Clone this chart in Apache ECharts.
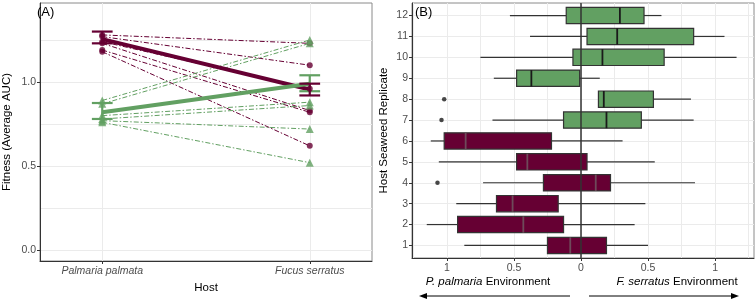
<!DOCTYPE html>
<html><head><meta charset="utf-8">
<script src="https://cdn.jsdelivr.net/npm/echarts@6/dist/echarts.min.js"></script>
<style>html,body{margin:0;padding:0;background:#fff}#c{width:755px;height:300px}</style>
</head><body><div id="c"></div>
<script>
// ---------- Panel A data ----------
const hosts = ['Palmaria palmata', 'Fucus serratus'];
const hostPos = [1, 2];
const ppAtPalmaria = [1.28, 1.27, 1.24, 1.23, 1.19, 1.18];
const ppAtFucus    = [1.23, 1.10, 0.96, 0.83, 0.82, 0.62];
const fsAtPalmaria = [0.89, 0.87, 0.80, 0.78, 0.77, 0.76];
const fsAtFucus    = [1.25, 1.23, 0.88, 0.86, 0.72, 0.52];
const ppMean = [1.255, 0.955];
const ppLow  = [1.23, 0.92];
const ppHigh = [1.30, 0.99];
const fsMean = [0.82, 0.99];
const fsLow  = [0.78, 0.945];
const fsHigh = [0.875, 1.04];
const yTicksA = [0, 0.5, 1.0];
const yGridA = [0, 0.25, 0.5, 0.75, 1.0, 1.25];

// ---------- Panel B data ----------
const replicates = [1,2,3,4,5,6,7,8,9,10,11,12];
const whiskerLow  = [-0.87,-1.15,-0.93,-0.73,-1.06,-1.12,-0.66, 0.13,-0.65,-0.75,-0.38,-0.53];
const quart1      = [-0.25,-0.92,-0.63,-0.28,-0.48,-1.02,-0.13, 0.13,-0.48,-0.06, 0.045,-0.11];
const medians     = [-0.08,-0.43,-0.51, 0.11,-0.40,-0.86, 0.19, 0.17,-0.37, 0.16, 0.27, 0.29];
const quart3      = [ 0.19,-0.13,-0.17, 0.22, 0.045,-0.22, 0.45, 0.54,-0.01, 0.62, 0.84, 0.47];
const whiskerHigh = [ 0.50, 0.40, 0.48, 0.85, 0.55, 0.31, 0.84, 0.82, 0.14, 1.16, 1.07, 0.60];
const outlierRep  = [4, 7, 8];
const outlierVal  = [-1.07, -1.04, -1.02];
const xTicksB = [-1, -0.5, 0, 0.5, 1];
const xTickLabelsB = ['1', '0.5', '0', '0.5', '1'];
const xGridB = [-1.25,-1,-0.75,-0.5,-0.25,0,0.25,0.5,0.75,1,1.25];

const MAROON = '#660033';
const GREEN = '#62a062';
const FONT = 'Liberation Sans, Arial, sans-serif';

const chart = echarts.init(document.getElementById('c'), null, {renderer: 'canvas'});

function gridLines(axisKey, values, xi, yi) {
  return {
    type: 'line', xAxisIndex: xi, yAxisIndex: yi, data: [], z: 0, silent: true,
    markLine: {
      z: 0, silent: true, symbol: ['none', 'none'], label: {show: false},
      animation: false,
      lineStyle: {color: '#ebebeb', width: 1, type: 'solid'},
      data: values.map(v => ({[axisKey]: v}))
    }
  };
}

function errRender(color) {
  return function (params, api) {
    const x = api.value(0), lo = api.value(1), hi = api.value(2);
    const pLo = api.coord([x, lo]), pHi = api.coord([x, hi]);
    const w = api.size([0.05, 0])[0];
    const st = {stroke: color, lineWidth: 2.2};
    return {type: 'group', children: [
      {type: 'line', shape: {x1: pLo[0], y1: pLo[1], x2: pHi[0], y2: pHi[1]}, style: st},
      {type: 'line', shape: {x1: pLo[0]-w, y1: pLo[1], x2: pLo[0]+w, y2: pLo[1]}, style: st},
      {type: 'line', shape: {x1: pHi[0]-w, y1: pHi[1], x2: pHi[0]+w, y2: pHi[1]}, style: st}
    ]};
  };
}

function boxRender(fill, medColor) {
  return function (params, api) {
    const y = api.value(0);
    const lo = api.coord([api.value(1), y]);
    const q1 = api.coord([api.value(2), y]);
    const md = api.coord([api.value(3), y]);
    const q3 = api.coord([api.value(4), y]);
    const hi = api.coord([api.value(5), y]);
    const h = api.size([0, 0.78])[1];
    const ln = {stroke: '#333', lineWidth: 1.2};
    return {type: 'group', children: [
      {type: 'line', shape: {x1: lo[0], y1: lo[1], x2: q1[0], y2: q1[1]}, style: ln},
      {type: 'line', shape: {x1: q3[0], y1: q3[1], x2: hi[0], y2: hi[1]}, style: ln},
      {type: 'rect', shape: {x: q1[0], y: q1[1]-h/2, width: q3[0]-q1[0], height: h},
        style: {fill: fill, stroke: '#333', lineWidth: 1.2}},
      {type: 'line', shape: {x1: md[0], y1: md[1]-h/2, x2: md[0], y2: md[1]+h/2},
        style: {stroke: medColor, lineWidth: 1.8}}
    ]};
  };
}

const series = [];
// Panel A grid
series.push(gridLines('yAxis', yGridA, 0, 0));
series.push(gridLines('xAxis', hostPos, 0, 0));
// replicate lines
const dashDot = [5, 2, 1.5, 2];
ppAtPalmaria.forEach((v, i) => series.push({
  type: 'line', xAxisIndex: 0, yAxisIndex: 0, symbol: 'none', z: 6, silent: true,
  lineStyle: {color: MAROON, width: 1, type: dashDot},
  data: [[hostPos[0], v], [hostPos[1], ppAtFucus[i]]]
}));
fsAtPalmaria.forEach((v, i) => series.push({
  type: 'line', xAxisIndex: 0, yAxisIndex: 0, symbol: 'none', z: 6, silent: true,
  lineStyle: {color: GREEN, width: 1, type: dashDot},
  data: [[hostPos[0], v], [hostPos[1], fsAtFucus[i]]]
}));
// mean lines
series.push({type: 'line', xAxisIndex: 0, yAxisIndex: 0, symbol: 'none', z: 8,
  lineStyle: {color: MAROON, width: 4}, data: hostPos.map((x, i) => [x, ppMean[i]])});
series.push({type: 'line', xAxisIndex: 0, yAxisIndex: 0, symbol: 'none', z: 8,
  lineStyle: {color: GREEN, width: 4}, data: hostPos.map((x, i) => [x, fsMean[i]])});
// error bars
series.push({type: 'custom', xAxisIndex: 0, yAxisIndex: 0, z: 9, renderItem: errRender(GREEN),
  data: hostPos.map((x, i) => [x, fsLow[i], fsHigh[i]])});
series.push({type: 'custom', xAxisIndex: 0, yAxisIndex: 0, z: 9, renderItem: errRender(MAROON),
  data: hostPos.map((x, i) => [x, ppLow[i], ppHigh[i]])});
// points
series.push({type: 'scatter', xAxisIndex: 0, yAxisIndex: 0, z: 10, symbol: 'circle', symbolSize: 6,
  itemStyle: {color: MAROON},
  data: ppAtPalmaria.map(v => [hostPos[0], v]).concat(ppAtFucus.map(v => [hostPos[1], v]))});
series.push({type: 'scatter', xAxisIndex: 0, yAxisIndex: 0, z: 10, symbol: 'triangle', symbolSize: 8,
  itemStyle: {color: GREEN},
  data: fsAtPalmaria.map(v => [hostPos[0], v]).concat(fsAtFucus.map(v => [hostPos[1], v]))});

// Panel B grid
series.push(gridLines('xAxis', xGridB, 1, 1));
series.push(gridLines('yAxis', replicates, 1, 1));
const rows = replicates.map((r, i) => [r, whiskerLow[i], quart1[i], medians[i], quart3[i], whiskerHigh[i]]);
series.push({type: 'custom', xAxisIndex: 1, yAxisIndex: 1, z: 8, renderItem: boxRender(MAROON, '#6e4a5a'),
  encode: {x: [1,2,3,4,5], y: 0}, data: rows.slice(0, 6)});
series.push({type: 'custom', xAxisIndex: 1, yAxisIndex: 1, z: 8, renderItem: boxRender(GREEN, '#1a1a1a'),
  encode: {x: [1,2,3,4,5], y: 0}, data: rows.slice(6)});
series.push({type: 'scatter', xAxisIndex: 1, yAxisIndex: 1, z: 9, symbol: 'circle', symbolSize: 4.5,
  itemStyle: {color: '#1a1a1a'}, data: outlierRep.map((r, i) => [outlierVal[i], r])});
// zero line
series.push({type: 'line', xAxisIndex: 1, yAxisIndex: 1, data: [], z: 20,
  markLine: {z: 20, silent: true, symbol: ['none','none'], label: {show: false}, animation: false,
    lineStyle: {color: '#333', width: 1.5, type: 'solid'}, data: [{xAxis: 0}]}});

const tickStyle = {show: true, length: 3, lineStyle: {color: '#333'}};
const axisLine = {show: true, onZero: false, lineStyle: {color: '#333', width: 1}};
const labelStyle = {color: '#4d4d4d', fontSize: 10.5, fontFamily: FONT};

chart.setOption({
  animation: false,
  backgroundColor: '#fff',
  grid: [
    {left: 34, top: 3, width: 338, height: 258, show: true, borderColor: '#8a8a8a', borderWidth: 1, backgroundColor: '#fff'},
    {left: 412, top: 3, width: 342, height: 255, show: true, borderColor: '#8a8a8a', borderWidth: 1, backgroundColor: '#fff'}
  ],
  xAxis: [
    {type: 'value', gridIndex: 0, min: 0.7, max: 2.3, axisLine: axisLine, splitLine: {show: false},
      axisTick: Object.assign({customValues: hostPos}, tickStyle),
      axisLabel: Object.assign({customValues: hostPos, margin: 5, fontStyle: 'italic',
        formatter: v => hosts[hostPos.indexOf(v)]}, labelStyle),
      name: 'Host', nameLocation: 'middle', nameGap: 17,
      nameTextStyle: {color: '#000', fontSize: 11.5, fontFamily: FONT}},
    {type: 'value', gridIndex: 1, min: -1.26, max: 1.29, axisLine: axisLine, splitLine: {show: false},
      axisTick: Object.assign({customValues: xTicksB}, tickStyle),
      axisLabel: Object.assign({customValues: xTicksB, margin: 5,
        formatter: v => xTickLabelsB[xTicksB.indexOf(v)]}, labelStyle)}
  ],
  yAxis: [
    {type: 'value', gridIndex: 0, min: -0.065, max: 1.47, axisLine: axisLine, splitLine: {show: false},
      axisTick: Object.assign({customValues: yTicksA}, tickStyle),
      axisLabel: Object.assign({customValues: yTicksA, margin: 4, formatter: v => v.toFixed(1)}, labelStyle),
      name: 'Fitness (Average AUC)', nameLocation: 'middle', nameGap: 27,
      nameTextStyle: {color: '#000', fontSize: 11.5, fontFamily: FONT}},
    {type: 'value', gridIndex: 1, min: 0.4, max: 12.6, axisLine: axisLine, splitLine: {show: false},
      axisTick: Object.assign({customValues: replicates}, tickStyle),
      axisLabel: Object.assign({customValues: replicates, margin: 4, formatter: v => String(v)}, labelStyle),
      name: 'Host Seaweed Replicate', nameLocation: 'middle', nameGap: 22,
      nameTextStyle: {color: '#000', fontSize: 11.5, fontFamily: FONT}}
  ],
  graphic: [
    {type: 'text', left: 37, top: 6, z: 50, style: {text: '(A)', fontSize: 13, fontFamily: FONT, fill: '#000'}},
    {type: 'text', left: 415, top: 6, z: 50, style: {text: '(B)', fontSize: 13, fontFamily: FONT, fill: '#000'}},
    {type: 'text', x: 488, y: 282, style: {text: '{i|P. palmaria} Environment', align: 'center', verticalAlign: 'middle',
      fontSize: 11.5, fontFamily: FONT, fill: '#000', rich: {i: {fontStyle: 'italic', fontSize: 11.5, fontFamily: FONT}}}},
    {type: 'text', x: 677, y: 282, style: {text: '{i|F. serratus} Environment', align: 'center', verticalAlign: 'middle',
      fontSize: 11.5, fontFamily: FONT, fill: '#000', rich: {i: {fontStyle: 'italic', fontSize: 11.5, fontFamily: FONT}}}},
    {type: 'line', shape: {x1: 570, y1: 296, x2: 425, y2: 296}, style: {stroke: '#000', lineWidth: 1}},
    {type: 'polygon', shape: {points: [[419, 296], [427, 293], [427, 299]]}, style: {fill: '#000'}},
    {type: 'line', shape: {x1: 589, y1: 296, x2: 733, y2: 296}, style: {stroke: '#000', lineWidth: 1}},
    {type: 'polygon', shape: {points: [[739, 296], [731, 293], [731, 299]]}, style: {fill: '#000'}}
  ],
  series: series
});
</script>
</body></html>
